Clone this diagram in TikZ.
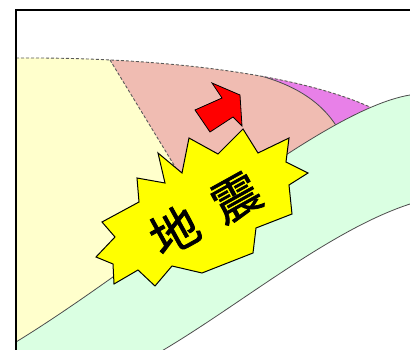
\documentclass[tikz,border=0pt]{standalone}
\usepackage{fontspec}
\newfontfamily\jpfont[FakeBold=1.5]{Noto Sans CJK JP}
\usepackage{xcolor}
\usepackage{tikz}

\definecolor{crust}{RGB}{255,255,204}
\definecolor{wedge}{RGB}{240,188,178}
\definecolor{wedgetip}{RGB}{232,128,232}
\definecolor{slab}{RGB}{218,255,226}
\definecolor{burst}{RGB}{255,255,0}

\begin{document}
\begin{tikzpicture}[
        x=1pt, y=-1pt,
        edge/.style={draw=black!70, line width=0.8pt},
        dashedge/.style={draw=black!65, line width=0.9pt, dash pattern=on 3pt off 2pt},
        frame/.style={draw=black, line width=2.5pt},
        label/.style={font=\jpfont\fontsize{48}{48}\selectfont, inner sep=0pt}
    ]
    \useasboundingbox (0,0) rectangle (410,350);

    % ---- Crust and wedge ----
    \begin{scope}
        \clip (16,58) .. controls (150,57) and (295,72) .. (372,108) -- (412,130) -- (412,352) -- (16,352) -- cycle;
        \fill[crust] (0,0) rectangle (412,352);
        \fill[wedge] (110,60) -- (224,247) -- (420,200) -- (420,0) -- cycle;
        \fill[wedgetip] (235,0) -- (235,70) .. controls (290,80) and (320,100) .. (337,127) -- (420,140) -- (420,0) -- cycle;
        \draw[edge] (235,70) .. controls (290,80) and (320,100) .. (337,127);
        \draw[dashedge] (110,60) -- (224,247);
    \end{scope}
    \draw[dashedge] (16,58) .. controls (150,57) and (295,72) .. (372,108);

    % ---- Slab ----
    \fill[slab] (16,342) .. controls (150,260) and (320,110) .. (410,95) -- (412,95) -- (412,204)
        -- (410,204) .. controls (330,230) and (240,305) .. (160,352) -- (16,352) -- cycle;
    \fill[white] (160,352) .. controls (240,305) and (330,230) .. (410,204) -- (412,204) -- (412,352) -- cycle;
    \draw[edge] (16,342) .. controls (150,260) and (320,110) .. (410,95);
    \draw[edge] (160,352) .. controls (240,305) and (330,230) .. (410,204);

    % ---- Burst ----
    \filldraw[fill=burst, draw=black, line width=1pt, line join=miter]
        (243,129) -- (258,153) -- (289,138) -- (286,162) -- (308,173) -- (289,185)
        -- (292,214) -- (256,228) -- (253,253) -- (202,273) -- (172,266) -- (155,286)
        -- (138,270) -- (114,284) -- (113,264) -- (96,257) -- (115,237) -- (102,222)
        -- (139,202) -- (137,178) -- (165,183) -- (158,153) -- (182,173) -- (189,138)
        -- (218,154) -- cycle;
    \node[label, rotate=29] (quake) at (205,214) {地\hspace{22pt}震};

    % ---- Arrow ----
    \filldraw[fill=red, draw=black, line width=0.8pt]
        (212,83) -- (240,95) -- (242,126) -- (233,117) -- (210,132) -- (195,110) -- (222,98) -- cycle;

    % ---- Frame ----
    \draw[frame] (16,10) rectangle (412,352);
\end{tikzpicture}
\end{document}
